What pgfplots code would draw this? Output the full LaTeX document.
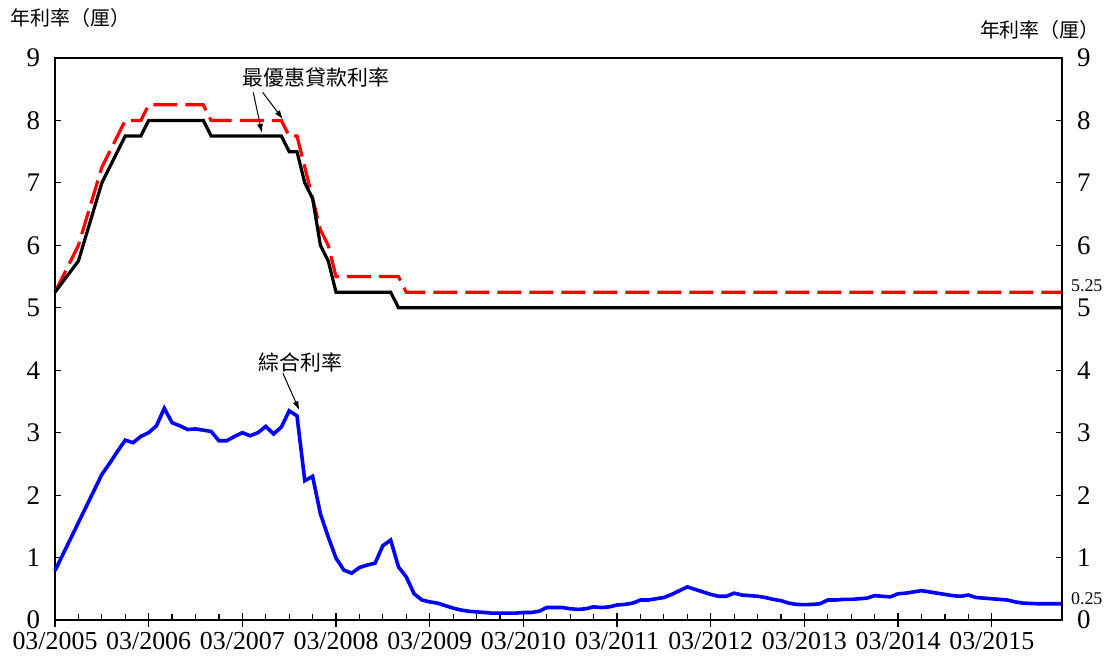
\documentclass[border=0pt]{standalone}
\usepackage{pgfplots}
\pgfplotsset{compat=1.18}
\usepackage{fontspec}
\setmainfont{Liberation Serif}
\newfontfamily\cjk{Noto Sans CJK TC}
\usetikzlibrary{arrows.meta}

% months counted from 03/2005
\pgfplotstableread{
m v
0 5.25
3 5.75
6 7.00
9 7.75
11 7.75
12 8.00
19 8.00
20 7.75
29 7.75
30 7.50
31 7.50
32 7.00
33 6.75
34 6.00
35 5.75
36 5.25
43 5.25
44 5.00
129 5.00
}\blr

\pgfplotstableread{
m v
0 5.25
3 6.00
6 7.25
9 8.00
11 8.00
12 8.25
19 8.25
20 8.00
29 8.00
30 7.75
31 7.75
32 7.25
33 6.75
34 6.25
35 6.00
36 5.50
44 5.50
45 5.25
129 5.25
}\blrb

\pgfplotstableread{
m v
0 0.79
6 2.33
7 2.51
8 2.70
9 2.88
10 2.84
11 2.94
12 3.00
13 3.11
14 3.39
15 3.16
16 3.11
17 3.05
18 3.06
19 3.04
20 3.02
21 2.87
22 2.87
23 2.94
24 3.00
25 2.95
26 3.00
27 3.10
28 2.98
29 3.09
30 3.35
31 3.27
32 2.23
33 2.30
34 1.70
35 1.33
36 0.99
37 0.80
38 0.75
39 0.84
40 0.88
41 0.91
42 1.19
43 1.28
44 0.85
45 0.69
46 0.42
47 0.32
48 0.29
49 0.27
50 0.23
51 0.19
52 0.16
53 0.14
54 0.13
55 0.12
56 0.11
57 0.11
58 0.11
59 0.11
60 0.12
61 0.12
62 0.14
63 0.20
64 0.20
65 0.20
66 0.18
67 0.17
68 0.18
69 0.21
70 0.20
71 0.21
72 0.24
73 0.25
74 0.27
75 0.32
76 0.32
77 0.34
78 0.36
79 0.41
80 0.47
81 0.53
82 0.49
83 0.45
84 0.41
85 0.38
86 0.38
87 0.43
88 0.40
89 0.39
90 0.38
91 0.36
92 0.33
93 0.31
94 0.27
95 0.25
96 0.245
97 0.25
98 0.26
99 0.32
100 0.32
101 0.33
102 0.33
103 0.34
104 0.35
105 0.39
106 0.38
107 0.37
108 0.42
109 0.43
110 0.45
111 0.47
112 0.45
113 0.43
114 0.41
115 0.39
116 0.38
117 0.40
118 0.36
119 0.35
120 0.34
121 0.33
122 0.32
123 0.29
124 0.27
125 0.265
126 0.26
127 0.26
128 0.26
129 0.26
}\comp

\begin{document}
\begin{tikzpicture}
\useasboundingbox (-27.5bp,-19.5bp) rectangle (526.5bp,310bp);
\pgfplotsset{
  base/.style={
    scale only axis, width=503.5bp, height=281bp,
    xmin=0, xmax=129, ymin=0, ymax=9,
    /pgf/number format/assume math mode=true,
    tick label style={font=\fontsize{13.5}{13.5}\selectfont},
    tick align=inside, major tick length=3.5bp, minor tick length=3bp,
    tick style={black, line width=0.6bp},
    axis line style={line width=0.8bp},
  }
}
\begin{axis}[base,
  xtick={0,12,...,120},
  xticklabels={03/2005,03/2006,03/2007,03/2008,03/2009,03/2010,03/2011,03/2012,03/2013,03/2014,03/2015},
  minor x tick num=3,
  major x tick style={yshift=-3.5bp},
  major tick length=7bp,
  x tick label style={yshift=-5.5bp, inner ysep=0.5bp, font=\fontsize{13}{13}\selectfont},
  y tick label style={xshift=-4bp, inner ysep=0pt},
  xtick pos=bottom, ytick pos=left,
  ytick={0,...,9},
  y tick style={/pgfplots/major tick length=3bp},
  clip=false,
]
\addplot[blue, line width=1.8bp] table {\comp};
\addplot[red, line width=1.6bp, dash pattern=on 12bp off 4bp] table {\blrb};
\addplot[black, line width=1.6bp] table {\blr};

\node[font=\cjk\fontsize{10.5}{10.5}\selectfont] at (axis cs:33.4,8.68) {最優惠貸款利率};
\draw[-{Latex[length=4.5bp,width=3bp]}, line width=0.5bp] (axis cs:25.4,8.45) -- (axis cs:26.5,7.80);
\draw[-{Latex[length=4.5bp,width=3bp]}, line width=0.5bp] (axis cs:26.6,8.45) -- (axis cs:29.2,8.02);
\node[font=\cjk\fontsize{10.5}{10.5}\selectfont] at (axis cs:31.4,4.12) {綜合利率};
\draw[-{Latex[length=4.5bp,width=3bp]}, line width=0.5bp] (axis cs:29.2,3.95) -- (axis cs:31.3,3.36);

\node[anchor=west, font=\cjk\fontsize{10}{10}\selectfont, inner sep=0pt] at ([xshift=-22.5bp,yshift=20bp]rel axis cs:0,1) {年利率（厘）};
\node[anchor=east, font=\cjk\fontsize{10}{10}\selectfont, inner sep=0pt] at ([xshift=19bp,yshift=14bp]rel axis cs:1,1) {年利率（厘）};
\end{axis}
\begin{axis}[base,
  axis x line=none, axis y line*=right,
  ytick={0,...,9}, ytick pos=right, major tick length=3bp,
  y tick label style={xshift=4bp, inner ysep=0pt},
  extra y ticks={0.25,5.25},
  extra y tick style={major tick length=0pt,
    tick label style={font=\fontsize{9}{9}\selectfont, yshift=3bp, xshift=-3bp}},
]
\addplot[draw=none] coordinates {(0,0)};
\end{axis}
\end{tikzpicture}
\end{document}
